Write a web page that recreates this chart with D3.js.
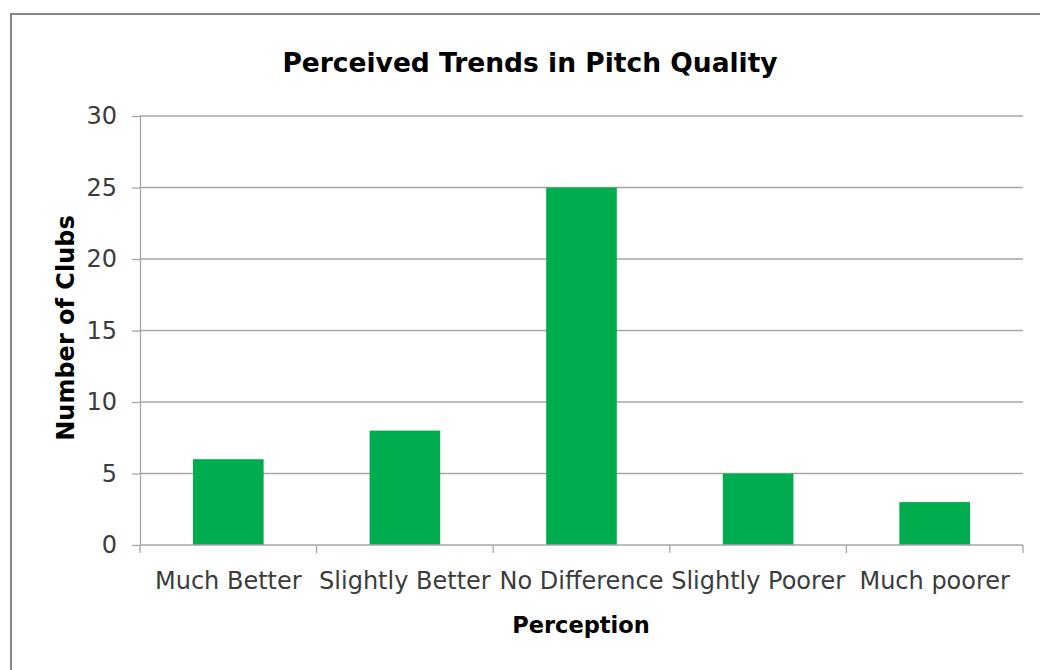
<!DOCTYPE html>
<html>
<head>
  <meta charset="utf-8">
  <title>Perceived Trends in Pitch Quality</title>
  <script src="https://d3js.org/d3.v7.min.js"></script>
  <style>
    body { margin: 0; background: #fff; }
    text { font-family: "Century Gothic", "DejaVu Sans", sans-serif; }
  </style>
</head>
<body>
  <svg id="chart" width="1040" height="670"></svg>
  <script>
    // data
    var categories = ['Much Better', 'Slightly Better', 'No Difference', 'Slightly Poorer', 'Much poorer'];
    var clubs = [6, 8, 25, 5, 3];
    var yTicks = [0, 5, 10, 15, 20, 25, 30];

    var margin = { top: 116, left: 140, bottom: 125, right: 17 };
    var svg = d3.select('#chart');
    var width = +svg.attr('width') - margin.left - margin.right;
    var height = +svg.attr('height') - margin.top - margin.bottom;
    var gray = '#a6a6a6';
    var labelColor = '#3c3c3c';

    // outer frame
    svg.append('rect')
      .attr('x', 11).attr('y', 14)
      .attr('width', 1040).attr('height', 670)
      .attr('fill', 'none')
      .attr('stroke', '#868686')
      .attr('stroke-width', 2);

    var x = d3.scaleBand()
      .domain(categories)
      .range([margin.left, margin.left + width])
      .paddingInner(0.6)
      .paddingOuter(0.3);
    var y = d3.scaleLinear()
      .domain([0, 30])
      .range([margin.top + height, margin.top]);

    // gridlines
    svg.append('g')
      .selectAll('line')
      .data(yTicks.filter(function(d) { return d > 0; }))
      .join('line')
      .attr('x1', margin.left).attr('x2', margin.left + width)
      .attr('y1', function(d) { return y(d); })
      .attr('y2', function(d) { return y(d); })
      .attr('stroke', gray)
      .attr('stroke-width', 1.3);

    // bars
    svg.append('g')
      .selectAll('rect')
      .data(clubs)
      .join('rect')
      .attr('x', function(d, i) { return x(categories[i]); })
      .attr('y', function(d) { return y(d); })
      .attr('width', x.bandwidth())
      .attr('height', function(d) { return y(0) - y(d); })
      .attr('fill', '#00ad4e');

    // y axis
    var yAxis = svg.append('g')
      .attr('transform', 'translate(' + margin.left + ',0)')
      .call(d3.axisLeft(y).tickValues(yTicks).tickSize(8).tickPadding(15).tickSizeOuter(0));
    yAxis.select('.domain').attr('stroke', gray).attr('stroke-width', 1.3);
    yAxis.selectAll('.tick line').attr('stroke', gray).attr('stroke-width', 1.3);
    yAxis.selectAll('.tick text')
      .attr('font-size', 24)
      .attr('fill', labelColor)
      .style('font-family', '"Century Gothic", "DejaVu Sans", sans-serif');

    // x axis: ticks at band edges
    var step = x.step();
    var edges = d3.range(categories.length + 1).map(function(i) { return margin.left + i * step; });
    var xg = svg.append('g');
    xg.append('line')
      .attr('x1', margin.left).attr('x2', margin.left + width)
      .attr('y1', y(0)).attr('y2', y(0))
      .attr('stroke', gray).attr('stroke-width', 1.3);
    xg.selectAll('line.tk')
      .data(edges)
      .join('line')
      .attr('class', 'tk')
      .attr('x1', function(d) { return d; }).attr('x2', function(d) { return d; })
      .attr('y1', y(0)).attr('y2', y(0) + 8)
      .attr('stroke', gray).attr('stroke-width', 1.3);
    xg.selectAll('text')
      .data(categories)
      .join('text')
      .attr('x', function(d) { return x(d) + x.bandwidth() / 2; })
      .attr('y', 589)
      .attr('text-anchor', 'middle')
      .attr('font-size', 24)
      .attr('fill', labelColor)
      .text(function(d) { return d; });

    // titles
    svg.append('text')
      .attr('x', 530).attr('y', 72)
      .attr('text-anchor', 'middle')
      .attr('font-size', 26.5)
      .attr('font-weight', 'bold')
      .attr('fill', '#000')
      .text('Perceived Trends in Pitch Quality');

    svg.append('text')
      .attr('x', 581).attr('y', 633)
      .attr('text-anchor', 'middle')
      .attr('font-size', 22.5)
      .attr('font-weight', 'bold')
      .attr('fill', '#000')
      .text('Perception');

    svg.append('text')
      .attr('transform', 'translate(74,328) rotate(-90)')
      .attr('text-anchor', 'middle')
      .attr('font-size', 24)
      .attr('font-weight', 'bold')
      .attr('fill', '#000')
      .text('Number of Clubs');
  </script>
</body>
</html>
